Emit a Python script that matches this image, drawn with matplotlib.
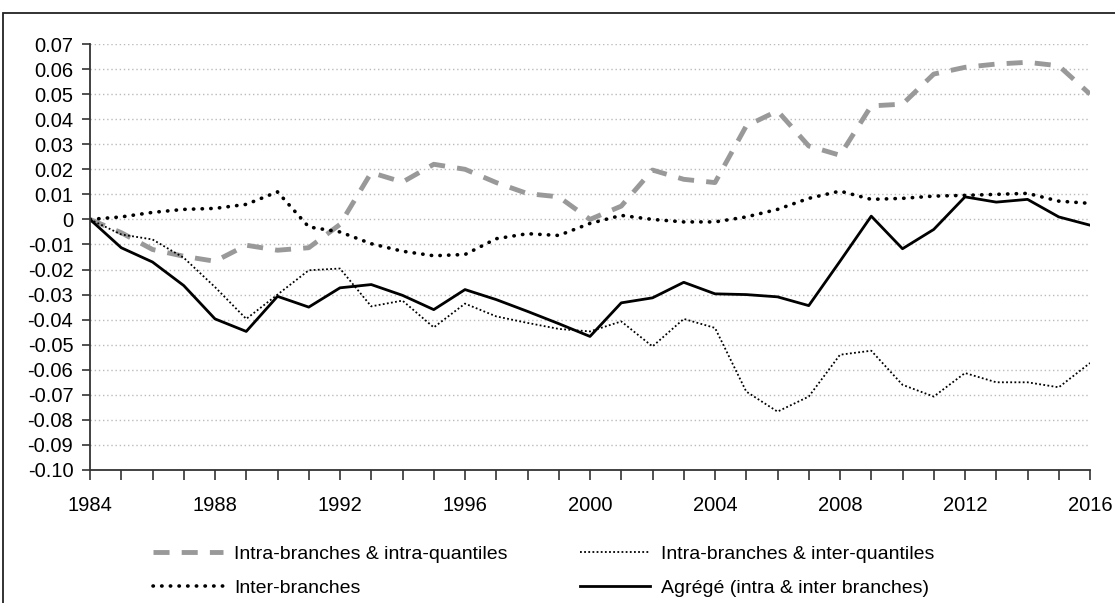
import matplotlib.pyplot as plt
from matplotlib.patches import Rectangle
from matplotlib.ticker import MultipleLocator, FixedLocator

plt.rcParams['font.family'] = ['Liberation Sans', 'DejaVu Sans']

years = list(range(1984, 2017))

intra_intra = [0.0, -0.0053, -0.012, -0.0147, -0.0167, -0.0103, -0.0123, -0.0113, -0.002,
               0.0187, 0.0149, 0.022, 0.02, 0.0147, 0.0103, 0.009, 0.0, 0.0053,
               0.0197, 0.016, 0.0147, 0.0373, 0.0433, 0.0293, 0.0256, 0.0453, 0.046,
               0.058, 0.0607, 0.062, 0.0627, 0.0613, 0.05]

intra_inter = [0.0, -0.006, -0.008, -0.0153, -0.027, -0.0397, -0.03, -0.0203, -0.0196,
               -0.0347, -0.0324, -0.0431, -0.0336, -0.0387, -0.0413, -0.0437, -0.0447, -0.0407,
               -0.0507, -0.0397, -0.0433, -0.0687, -0.0767, -0.0707, -0.054, -0.0524, -0.066,
               -0.0707, -0.0613, -0.065, -0.065, -0.067, -0.0573]

inter_branches = [0.0, 0.001, 0.0028, 0.004, 0.0044, 0.006, 0.011, -0.003, -0.005,
                  -0.0097, -0.0127, -0.0145, -0.014, -0.0077, -0.0057, -0.0064, -0.0016, 0.0016,
                  0.0, -0.001, -0.001, 0.001, 0.004, 0.0084, 0.0113, 0.008, 0.0084,
                  0.0093, 0.0096, 0.01, 0.0104, 0.0073, 0.0064]

aggregate = [0.0, -0.0113, -0.017, -0.0264, -0.0397, -0.0447, -0.0307, -0.035, -0.0273,
             -0.026, -0.0303, -0.036, -0.028, -0.032, -0.0367, -0.0416, -0.0467, -0.0333,
             -0.0313, -0.0251, -0.0297, -0.030, -0.0309, -0.0344, -0.0167, 0.0013, -0.0117,
             -0.004, 0.009, 0.0069, 0.008, 0.001, -0.0023]

labels = ['Intra-branches & intra-quantiles', 'Intra-branches & inter-quantiles',
          'Inter-branches', 'Agrégé (intra & inter branches)']

fig = plt.figure(figsize=(11.15, 6.03), dpi=100)
ax = fig.add_axes([90 / 1115, 1 - 470 / 603, 1000 / 1115, 426 / 603])

# outer frame of the figure
fig.patches.append(Rectangle((3 / 1115, -0.01), 1.02, 1 - 13 / 603 + 0.01,
                             transform=fig.transFigure, fill=False,
                             edgecolor='#222222', linewidth=1.3))

l1, = ax.plot(years, intra_intra, color='#999999', linewidth=3.5, dashes=(3.3, 2.5))
l2, = ax.plot(years, intra_inter, color='black', linewidth=1.3, linestyle=(0, (1, 1.3)))
l3, = ax.plot(years, inter_branches, color='black', linewidth=2.6,
              linestyle=(0, (0.1, 2.3)), dash_capstyle='round')
l4, = ax.plot(years, aggregate, color='black', linewidth=2.0)

ax.set_xlim(1984, 2016)
ax.set_ylim(-0.10, 0.07)
ax.xaxis.set_major_locator(FixedLocator(range(1984, 2017, 4)))
ax.xaxis.set_minor_locator(MultipleLocator(1))
yt = [round(v / 100, 2) for v in range(-10, 8)]
ax.set_yticks(yt)
ax.set_yticklabels(['0' if v == 0 else f'{v:.2f}' for v in yt])

for v in yt[1:]:
    ax.axhline(v, color='#bbbbbb', linewidth=1.0, linestyle=(0, (1, 2)), zorder=0)

for s in ['top', 'right']:
    ax.spines[s].set_visible(False)
for s in ['left', 'bottom']:
    ax.spines[s].set_color('#333333')
    ax.spines[s].set_linewidth(1.3)

ax.tick_params(axis='y', which='major', length=6, width=1.2, color='#333333',
               labelsize=14.5, pad=6)
ax.tick_params(axis='x', which='both', length=7, width=1.2, color='#333333',
               direction='out', labelsize=14.5, pad=12)

# row-wise order across two columns
fig.legend([l1, l3, l2, l4], [labels[0], labels[2], labels[1], labels[3]],
           loc='upper left', ncol=2,
           bbox_to_anchor=(135 / 1115, 1 - 528 / 603), frameon=False,
           fontsize=14, handlelength=3.6, handletextpad=0.6,
           columnspacing=3.7, labelspacing=0.85)

fig.savefig('out.png', dpi=100)
